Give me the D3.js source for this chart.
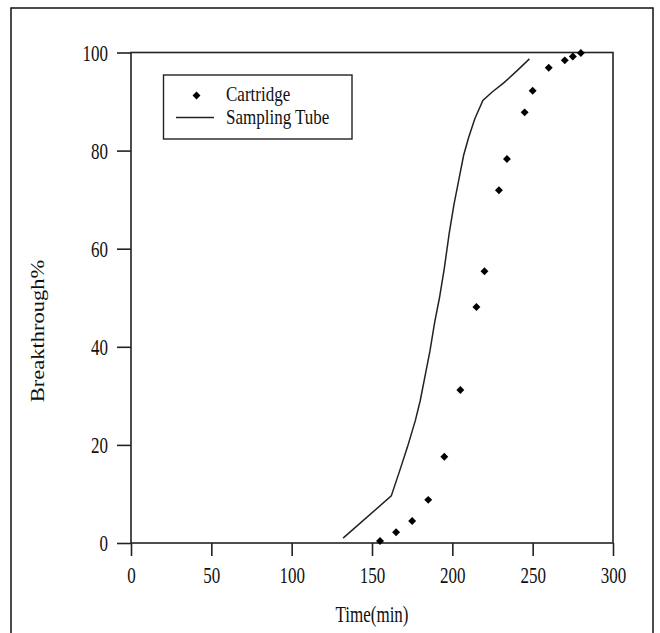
<!DOCTYPE html>
<html><head><meta charset="utf-8">
<script src="https://cdn.jsdelivr.net/npm/d3@7"></script>
<style>body{margin:0;background:#fff}svg{display:block}text{font-family:"Liberation Serif","Times New Roman",serif;fill:#111}</style>
</head><body><div id="chart"></div>
<script>
const cartridgeTime = [155,165,175,185,195,205,215,220,229,234,245,250,260,270,275,280];
const cartridgeBreak = [0.4,2.2,4.5,8.8,17.6,31.2,48.1,55.4,71.9,78.3,87.8,92.2,96.9,98.4,99.2,99.9];
const tubeTime = [132,162,167,172,177,180,183,186,189,192,195,198,201,204,207,210,214,219,225,232,240,248];
const tubeBreak = [1,9.6,14.5,19.5,25,29,34,39,45,50,56,63,69,74,79,82.5,86.5,90.2,92,93.8,96.2,98.7];
const xTicks = [0,50,100,150,200,250,300];
const yTicks = [0,20,40,60,80,100];

const W=660,H=633, SY=1.33;
const svg=d3.select("#chart").append("svg").attr("width",W).attr("height",H);
svg.append("rect").attr("x",11).attr("y",8).attr("width",642).attr("height",640)
  .attr("fill","none").attr("stroke","#111").attr("stroke-width",1.5);

const x=d3.scaleLinear().domain([0,300]).range([131,613]);
const y=d3.scaleLinear().domain([0,100]).range([543,52.5]);
const ax="#222";

svg.append("rect").attr("x",x(0)).attr("y",y(100)).attr("width",x(300)-x(0)).attr("height",y(0)-y(100))
  .attr("fill","none").attr("stroke",ax).attr("stroke-width",1.6);

const xa=svg.append("g").attr("transform",`translate(0,${y(0)})`)
  .call(d3.axisBottom(x).tickValues(xTicks).tickSize(13).tickFormat(d3.format("d")));
const ya=svg.append("g").attr("transform",`translate(${x(0)},0)`)
  .call(d3.axisLeft(y).tickValues(yTicks).tickSize(14).tickFormat(d3.format("d")));
[xa,ya].forEach(g=>{
  g.select(".domain").remove();
  g.selectAll("line").attr("stroke",ax).attr("stroke-width",1.6);
  g.selectAll("text").style("font-family",'"Liberation Serif",serif').style("font-size","17px").attr("fill","#111")
    .attr("dy",null).attr("transform",`scale(1,${SY})`);
});
xa.selectAll("text").attr("y",40/SY);
ya.selectAll("text").attr("x",-23).attr("y",7.5/SY);

const line=d3.line().x((d,i)=>x(tubeTime[i])).y((d,i)=>y(tubeBreak[i]));
svg.append("path").datum(tubeTime).attr("d",line).attr("fill","none").attr("stroke","#222").attr("stroke-width",1.5);

const diamond=d3.symbol().type(d3.symbolDiamond2).size(40);
svg.append("g").selectAll("path").data(cartridgeTime).join("path")
  .attr("d",diamond).attr("transform",(d,i)=>`translate(${x(d)},${y(cartridgeBreak[i])})`).attr("fill","#000");

svg.append("text").attr("transform",`translate(${(x(0)+x(300))/2},622) scale(1,${SY})`).attr("text-anchor","middle").style("font-size","17px").text("Time(min)");
svg.append("text").attr("transform",`translate(44,331) rotate(-90) scale(1.25,1)`).attr("text-anchor","middle").style("font-size","18px").text("Breakthrough%");

const lg=svg.append("g");
lg.append("rect").attr("x",163.5).attr("y",75).attr("width",188.5).attr("height",64).attr("fill","#fff").attr("stroke","#222").attr("stroke-width",1.4);
lg.append("path").attr("d",diamond).attr("transform","translate(196.5,95.5)").attr("fill","#000");
lg.append("line").attr("x1",176).attr("x2",214).attr("y1",117.5).attr("y2",117.5).attr("stroke","#222").attr("stroke-width",1.4);
lg.append("text").attr("transform",`translate(226,101) scale(1,1.25)`).style("font-size","17px").text("Cartridge");
lg.append("text").attr("transform",`translate(226,124) scale(1,1.25)`).style("font-size","17px").text("Sampling Tube");
</script></body></html>
